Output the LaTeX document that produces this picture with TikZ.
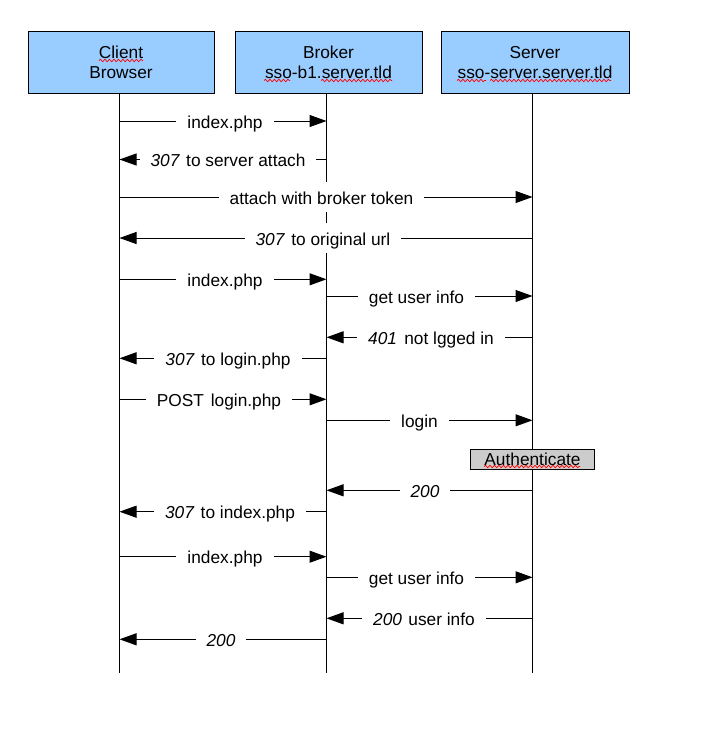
\documentclass[tikz,border=0pt]{standalone}
\usepackage{fontspec}
\setmainfont{Liberation Sans}
\usetikzlibrary{arrows.meta,decorations.pathmorphing}
\definecolor{actorblue}{RGB}{153,204,255}
\definecolor{authgray}{RGB}{204,204,204}
\newcommand{\numit}[1]{\textit{#1}\hspace{1.5pt}}
\begin{document}
\begin{tikzpicture}[x=1pt,y=-1pt, font=\fontsize{17.3}{20}\selectfont,
  actor/.style={draw=black, line width=1pt, fill=actorblue, align=center, inner sep=0pt},
  lifeline/.style={line width=1pt},
  msg/.style={line width=1pt, -{Triangle[length=17pt,width=12pt]}},
  lbl/.style={fill=white, inner xsep=11pt, inner ysep=5pt, text height=17pt, text depth=3pt},
  squiggle/.style={red, line width=0.7pt, decorate, decoration={snake, segment length=4.5pt, amplitude=1.2pt}}]
\useasboundingbox (0,0) rectangle (702,734);

% actors
\node[actor, minimum width=186pt, minimum height=61.5pt] (client) at (121,62.25) {Client\\Browser};
\node[actor, minimum width=187pt, minimum height=61.5pt] (broker) at (328.5,62.25) {Broker\\sso-b1.server.tld};
\node[actor, minimum width=188pt, minimum height=61.5pt] (server) at (535,62.25) {Server\\sso-server.server.tld};

% lifeline ends
\coordinate (cEnd) at (119.5,672.5);
\coordinate (bEnd) at (326.5,672.5);
\coordinate (sEnd) at (532.5,672.5);
\draw[lifeline] (client.south -| cEnd) -- (cEnd);
\draw[lifeline] (broker.south -| bEnd) -- (bEnd);
\draw[lifeline] (server.south -| sEnd) -- (sEnd);

% spell-check underlines
\draw[squiggle] (99,60.5) -- (143,60.5);
\draw[squiggle] (264,80.5) -- (290,80.5);
\draw[squiggle] (321,80.5) -- (392,80.5);
\draw[squiggle] (457,80.5) -- (486,80.5);
\draw[squiggle] (490,80.5) -- (611,80.5);

% messages
\foreach \n/\y in {1/121,2/159.5,3/197,4/238,5/279.3,6/296,7/337.3,8/358.3,9/399.3,10/420.3,11/490.3,12/511.7,13/556.7,14/577.3,15/618.3,16/639.3}{
  \coordinate (c\n) at (119.5,\y);
  \coordinate (b\n) at (326.5,\y);
  \coordinate (s\n) at (532.5,\y);
}
\draw[msg] (c1) -- (b1);
\node[lbl] (l1) at (225,121) {index.php};
\draw[msg] (b2) -- (c2);
\node[lbl] (l2) at (228,159.5) {\numit{307} to server attach};
\draw[msg] (c3) -- (s3);
\node[lbl] (l3) at (321.5,197) {attach with broker token};
\draw[msg] (s4) -- (c4);
\node[lbl] (l4) at (323,238) {\numit{307} to original url};
\draw[msg] (c5) -- (b5);
\node[lbl] (l5) at (225,279.3) {index.php};
\draw[msg] (b6) -- (s6);
\node[lbl] (l6) at (416.5,296) {get user info};
\draw[msg] (s7) -- (b7);
\node[lbl] (l7) at (431,337.3) {\numit{401}\hspace{1pt} not lgged in};
\draw[msg] (b8) -- (c8);
\node[lbl] (l8) at (228,358.3) {\numit{307} to login.php};
\draw[msg] (c9) -- (b9);
\node[lbl] (l9) at (219,399.3) {POST\hspace{2pt} login.php};
\draw[msg] (b10) -- (s10);
\node[lbl] (l10) at (419.5,420.3) {login};

% authenticate
\node[draw, line width=1pt, fill=authgray, minimum width=123.6pt, minimum height=20.3pt, inner sep=0pt] (auth) at (532.5,459.2) {Authenticate};
\draw[squiggle] (484,466.5) -- (580,466.5);

\draw[msg] (s11) -- (b11);
\node[lbl] (l11) at (425,490.3) {\textit{200}};
\draw[msg] (b12) -- (c12);
\node[lbl] (l12) at (230,511.7) {\numit{307} to index.php};
\draw[msg] (c13) -- (b13);
\node[lbl] (l13) at (225,556.7) {index.php};
\draw[msg] (b14) -- (s14);
\node[lbl] (l14) at (416.5,577.3) {get user info};
\draw[msg] (s15) -- (b15);
\node[lbl] (l15) at (424,618.3) {\numit{200} user info};
\draw[msg] (b16) -- (c16);
\node[lbl] (l16) at (221,639.3) {\textit{200}};
\end{tikzpicture}
\end{document}
